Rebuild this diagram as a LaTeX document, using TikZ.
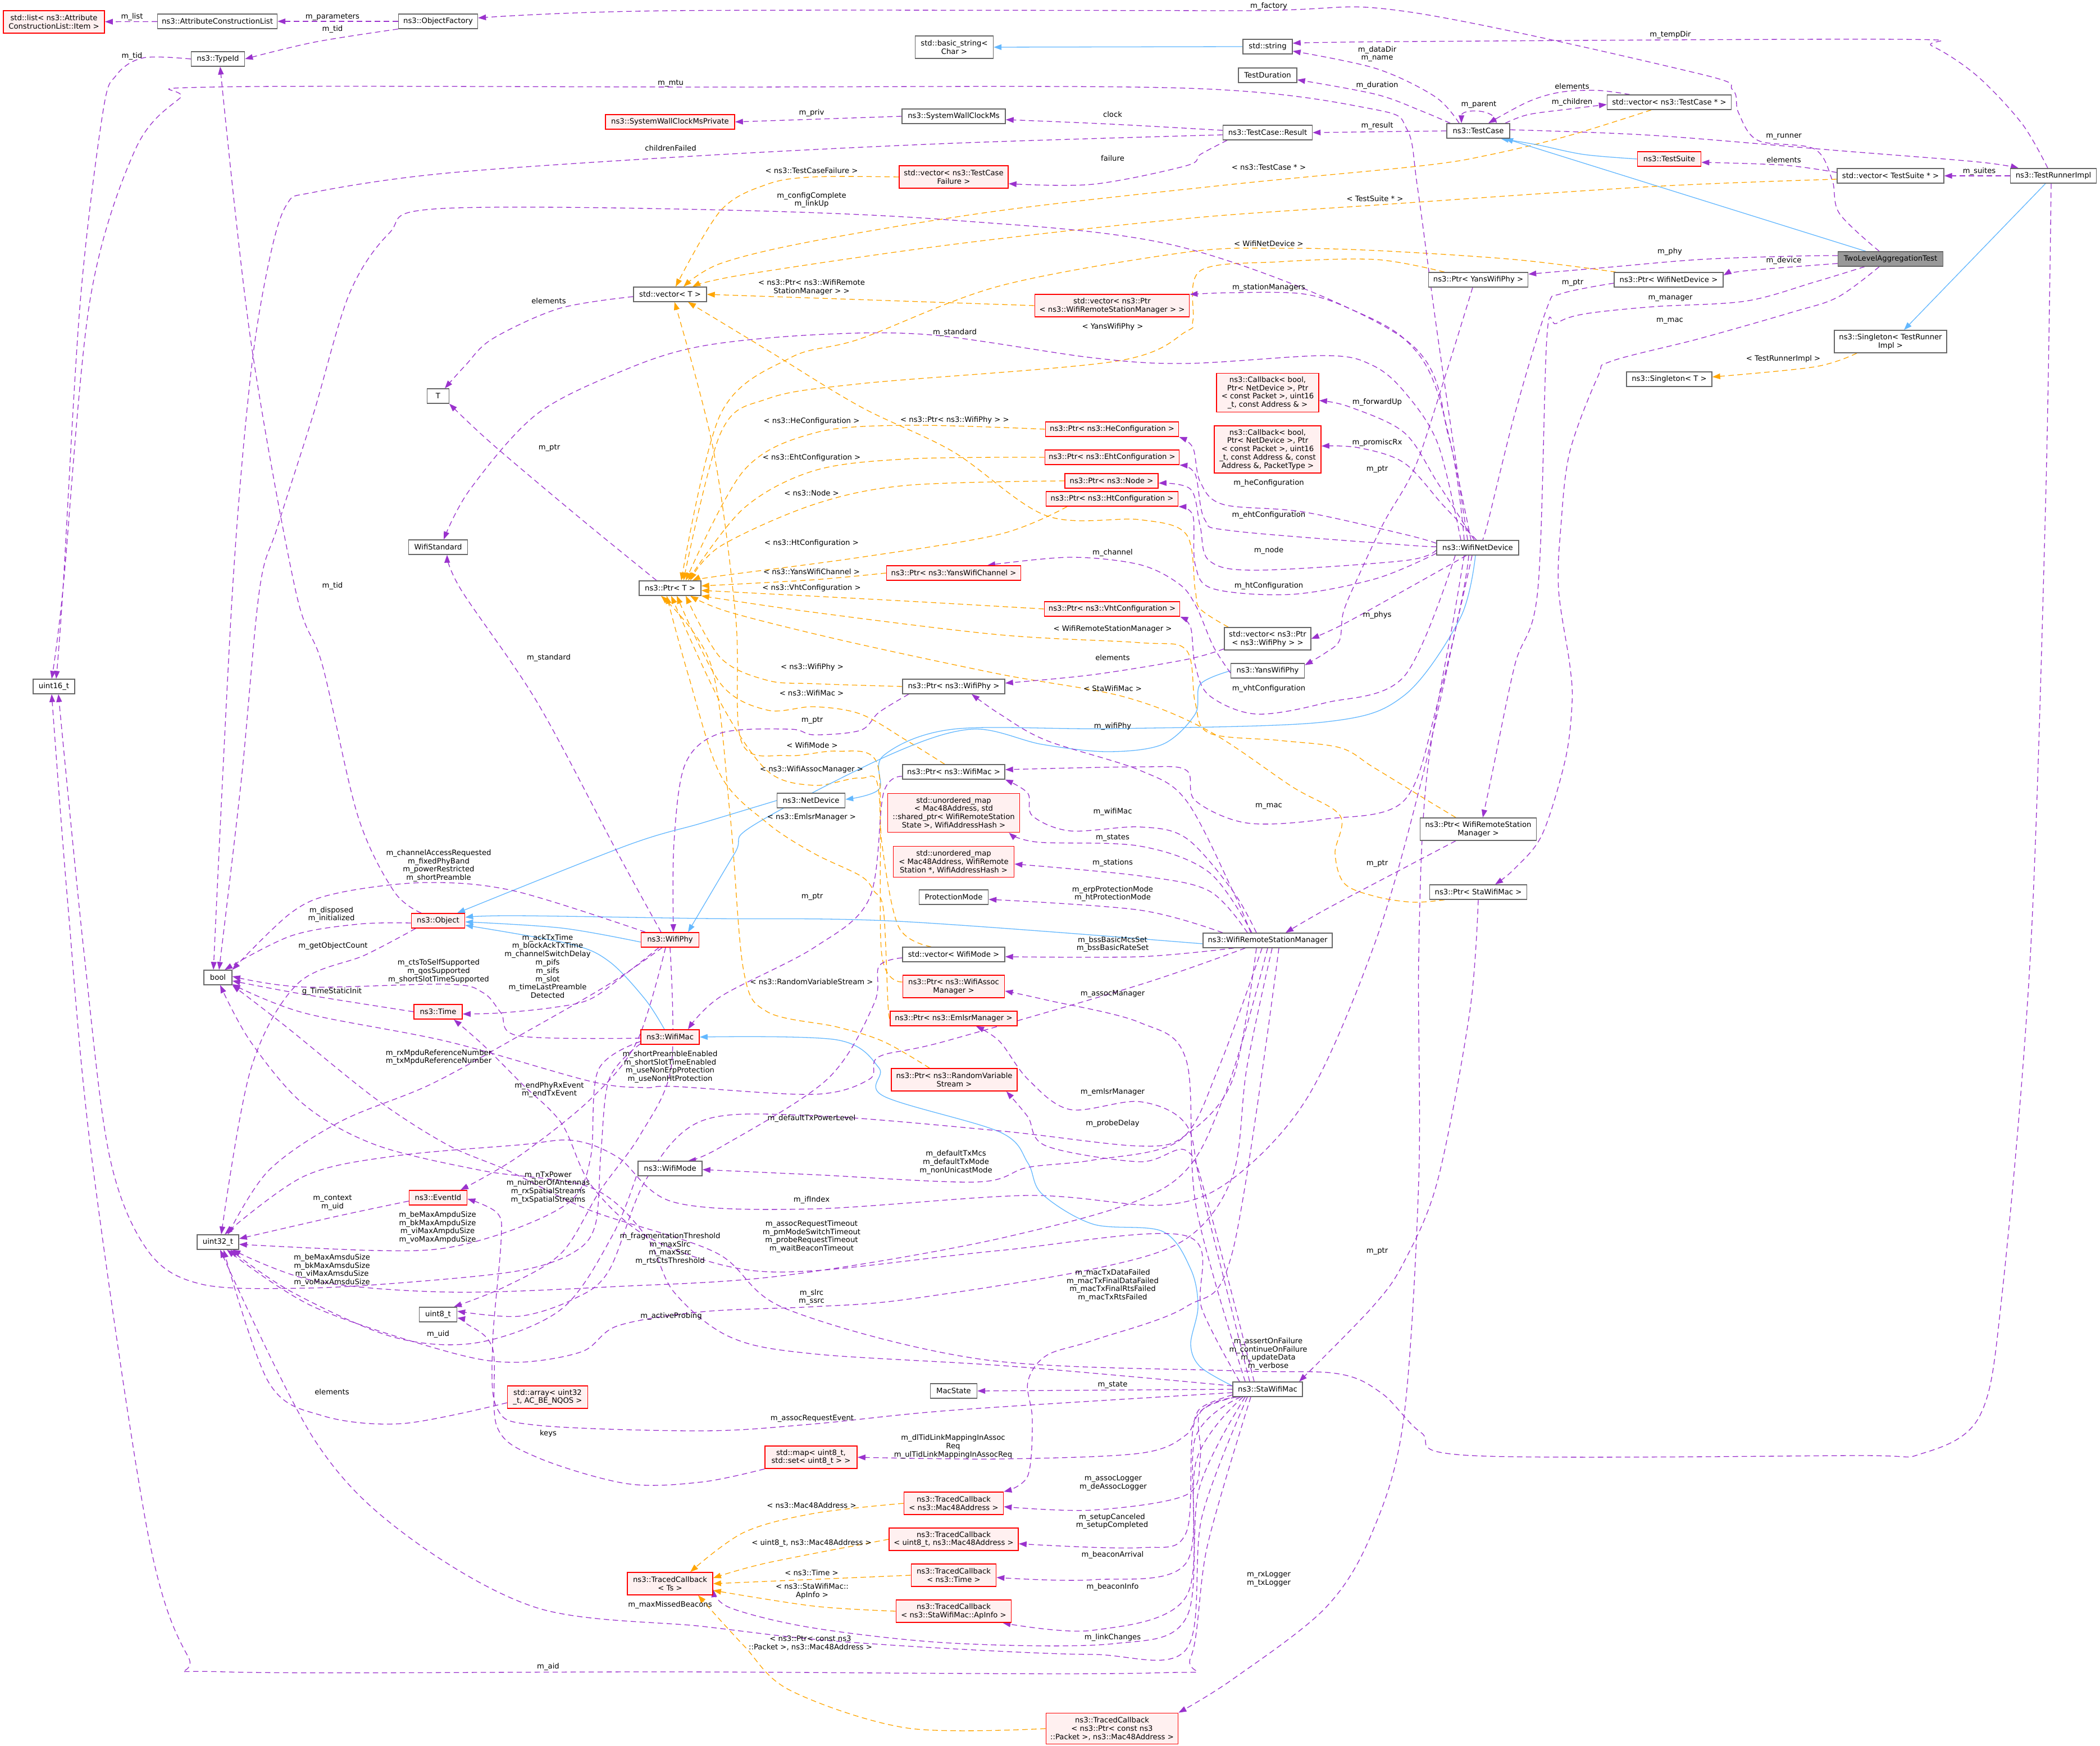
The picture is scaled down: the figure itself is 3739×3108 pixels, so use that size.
\documentclass[tikz,border=0pt]{standalone}
\usepackage{fontspec}
\setmainfont{DejaVu Sans}
\usetikzlibrary{arrows.meta}
\definecolor{purp}{RGB}{154,50,205}
\definecolor{orng}{RGB}{255,165,0}
\definecolor{blu}{RGB}{99,184,255}
\definecolor{bgray}{RGB}{102,102,102}
\definecolor{redf}{RGB}{255,240,240}
\definecolor{gfill}{RGB}{153,153,153}
\pgfdeclarelayer{back}\pgfdeclarelayer{edges}
\pgfsetlayers{back,edges,main}
\newcommand\edg[2]{\draw[#1] plot[smooth,tension=0.55] coordinates {#2};}
\tikzset{
 box/.style={draw=bgray,fill=white,line width=0.7pt,inner xsep=1pt,inner ysep=0pt,align=center,minimum height=13pt},
 bx/.style={box,minimum width=#1pt},
 rb/.style={box,draw=red,fill=redf,line width=0.8pt,minimum width=#1pt},
 gb/.style={box,fill=gfill,minimum width=#1pt},
 h2/.style={minimum height=20pt},
 h3/.style={minimum height=27.5pt},
 h4/.style={minimum height=34.5pt},
 h5/.style={minimum height=42pt},
 lb/.style={inner sep=0pt,align=center},
 pe/.style={draw=purp,line width=0.65pt,dash pattern=on 4.8pt off 3.2pt,-{Triangle[length=7pt,width=5pt]}},
 oe/.style={draw=orng,line width=0.65pt,dash pattern=on 4.8pt off 3.2pt,-{Triangle[length=7pt,width=5pt]}},
 be/.style={draw=blu,line width=0.65pt,-{Triangle[length=7pt,width=5pt]}},
}
\begin{document}
\begin{tikzpicture}[x=0.5pt,y=-0.5pt,font=\fontsize{6.6pt}{7.4pt}\selectfont]
\begin{pgfonlayer}{back}
\fill[white] (0,0) rectangle (3739,3108);
\end{pgfonlayer}
\useasboundingbox (0,0) rectangle (3739,3108);
% ---------------- nodes
\node[rb=90,h2] (list) at (96,39) {std::list< ns3::Attribute\\ConstructionList::Item >};
\node[bx=106.5] (acl) at (387,38) {ns3::AttributeConstructionList};
\node[bx=70.5] (of) at (780,38) {ns3::ObjectFactory};
\node[bx=47.5] (tid) at (388,105) {ns3::TypeId};
\node[bx=37] (u16) at (96,1222) {uint16\_t};
\node[bx=19.5] (T) at (780,705) {T};
\node[bx=52.5] (ws) at (780,974) {WifiStandard};
\node[bx=65] (vecT) at (1193,524) {std::vector< T >};
\node[bx=55] (ptrT) at (1193,1047) {ns3::Ptr< T >};
\node[rb=115] (swcp) at (1193,217) {ns3::SystemWallClockMsPrivate};
\node[bx=25] (bool) at (388,1740) {bool};
\node[rb=47.5] (obj) at (780,1639) {ns3::Object};
\node[rb=43] (time) at (780,1801) {ns3::Time};
\node[rb=51.5] (wphy) at (1193,1673) {ns3::WifiPhy};
\node[rb=52] (wmac) at (1193,1846) {ns3::WifiMac};
\node[bx=57] (wmode) at (1193,2080) {ns3::WifiMode};
\node[bx=37] (u32) at (388,2211) {uint32\_t};
\node[rb=51.5] (evid) at (780,2132) {ns3::EventId};
\node[bx=33.5] (u8) at (780,2340) {uint8\_t};
\node[rb=71.5,h2] (arr) at (975,2487) {std::array< uint32\\\_t, AC\_BE\_NQOS >};
\node[rb=76,h2] (tcts) at (1193,2819) {ns3::TracedCallback\\< Ts >};
\node[bx=69.5,h2] (bstr) at (1699,84) {std::basic\_string<\\ Char >};
\node[bx=92] (swc) at (1698,207) {ns3::SystemWallClockMs};
\node[rb=97,h2] (vtcf) at (1698,315) {std::vector< ns3::TestCase\\Failure >};
\node[rb=119.5] (pychan) at (1698,1020) {ns3::Ptr< ns3::YansWifiChannel >};
\node[bx=91] (pwphy) at (1698,1222) {ns3::Ptr< ns3::WifiPhy >};
\node[bx=91] (pwmac) at (1698,1374) {ns3::Ptr< ns3::WifiMac >};
\node[bx=60.5] (netdev) at (1444,1425) {ns3::NetDevice};
\node[rb=117.5,h4] (umst) at (1698,1447) {std::unordered\_map\\< Mac48Address, std\\::shared\_ptr< WifiRemoteStation\\State >, WifiAddressHash >};
\node[rb=107.5,h3] (umsn) at (1698,1534) {std::unordered\_map\\< Mac48Address, WifiRemote\\Station *, WifiAddressHash >};
\node[bx=61.5] (prot) at (1698,1597) {ProtectionMode};
\node[bx=91] (vwm) at (1698,1699) {std::vector< WifiMode >};
\node[rb=90.5,h2] (passoc) at (1698,1756) {ns3::Ptr< ns3::WifiAssoc\\Manager >};
\node[rb=113] (pemlsr) at (1698,1813) {ns3::Ptr< ns3::EmlsrManager >};
\node[rb=112,h2] (prvs) at (1699,1922) {ns3::Ptr< ns3::RandomVariable\\Stream >};
\node[bx=41.5] (macst) at (1698,2476) {MacState};
\node[rb=82,h2] (map) at (1444,2594) {std::map< uint8\_t,\\ std::set< uint8\_t > >};
\node[rb=88.5,h2] (tcmac) at (1698,2676) {ns3::TracedCallback\\< ns3::Mac48Address >};
\node[rb=115,h2] (tcu8) at (1698,2740) {ns3::TracedCallback\\< uint8\_t, ns3::Mac48Address >};
\node[rb=75.5,h2] (tctime) at (1698,2804) {ns3::TracedCallback\\< ns3::Time >};
\node[rb=102.5,h2] (tcap) at (1698,2868) {ns3::TracedCallback\\< ns3::StaWifiMac::ApInfo >};
\node[rb=117.5,h3] (tcpkt) at (1980,3077) {ns3::TracedCallback\\< ns3::Ptr< const ns3\\::Packet >, ns3::Mac48Address >};
\node[rb=137.5,h2] (vpwrsm) at (1980,544) {std::vector< ns3::Ptr\\< ns3::WifiRemoteStationManager > >};
\node[rb=118.5] (phe) at (1980,764) {ns3::Ptr< ns3::HeConfiguration >};
\node[rb=119.5] (peht) at (1980,814) {ns3::Ptr< ns3::EhtConfiguration >};
\node[rb=83] (pnode) at (1979,856) {ns3::Ptr< ns3::Node >};
\node[rb=117.5] (pht) at (1980,888) {ns3::Ptr< ns3::HtConfiguration >};
\node[rb=120.5] (pvht) at (1980,1084) {ns3::Ptr< ns3::VhtConfiguration >};
\node[bx=115] (wrsm) at (2257,1674) {ns3::WifiRemoteStationManager};
\node[bx=62] (sta) at (2257,2473) {ns3::StaWifiMac};
\node[bx=44] (str) at (2257,83) {std::string};
\node[bx=52] (tdur) at (2257,134) {TestDuration};
\node[bx=79.5] (res) at (2257,236) {ns3::TestCase::Result};
\node[rb=91,h4] (cbfw) at (2257,699) {ns3::Callback< bool,\\ Ptr< NetDevice >, Ptr\\< const Packet >, uint16\\\_t, const Address \& >};
\node[rb=95,h5] (cbpr) at (2257,800) {ns3::Callback< bool,\\ Ptr< NetDevice >, Ptr\\< const Packet >, uint16\\\_t, const Address \&, const\\ Address \&, PacketType >};
\node[bx=77,h2] (vpwphy) at (2257,1137) {std::vector< ns3::Ptr\\< ns3::WifiPhy > >};
\node[bx=65.5] (yphy) at (2257,1194) {ns3::YansWifiPhy};
\node[bx=56] (tc) at (2632,233) {ns3::TestCase};
\node[bx=88.5] (pyphy) at (2632,498) {ns3::Ptr< YansWifiPhy >};
\node[bx=73] (wnd) at (2631,975) {ns3::WifiNetDevice};
\node[bx=103.5,h2] (pwrsm) at (2632,1476) {ns3::Ptr< WifiRemoteStation\\Manager >};
\node[bx=86.5] (psta) at (2632,1588) {ns3::Ptr< StaWifiMac >};
\node[bx=110.5] (vtc) at (2972,182) {std::vector< ns3::TestCase * >};
\node[rb=56.5] (ts) at (2972,283) {ns3::TestSuite};
\node[bx=97] (pwnd) at (2971,498) {ns3::Ptr< WifiNetDevice >};
\node[bx=76] (sgT) at (2972,675) {ns3::Singleton< T >};
\node[bx=95] (vts) at (3366,313) {std::vector< TestSuite * >};
\node[gb=93.5] (tlat) at (3366,461) {TwoLevelAggregationTest};
\node[bx=100,h2] (sgtr) at (3366,608) {ns3::Singleton< TestRunner\\Impl >};
\node[bx=76.5] (tri) at (3656,313) {ns3::TestRunnerImpl};
% ---------------- edges
\begin{pgfonlayer}{edges}
\draw[pe] (acl) -- (list);
\draw[pe] (of) -- (acl);
\edg{pe}{(of.south west) (560,75) (tid.east)}
\edg{pe}{(tid.west) (255,103) (207,134) (183,201) (143,536) (112,1050) ([xshift=2pt]u16.north)}
\edg{pe}{([xshift=-10pt]tlat.north) (3275,380) (3262,320) (3230,265) (3130,250) (3095,200) (3085,160) (3020,130) (2500,20) (2200,19) (1200,19) ([yshift=3pt]of.east)}
\edg{pe}{([xshift=-5pt]tri.north) (3600,220) (3520,135) (3440,82) (3380,70) (2500,74) ([yshift=3pt]str.east)}
\edg{pe}{([xshift=-17pt]tc.north) (2555,172) (2450,122) ([yshift=-4pt]str.east)}
\edg{pe}{([xshift=-25pt]tc.north) (2532,198) (2450,168) ([yshift=-4pt]tdur.east)}
\draw[pe] (tc.west) -- (res.east);
\draw[pe] ([xshift=16pt]tc.north) .. controls (2666,193) and (2602,193) .. ([xshift=-15pt]tc.north);
\edg{pe}{([xshift=-35pt]vtc.north) (2845,161) (2779,164) (2721,181) ([xshift=9pt]tc.north)}
\edg{pe}{([xshift=24pt]tc.north) (2721,204) (2795,194) ([yshift=-2pt]vtc.west)}
\edg{oe}{([xshift=-16pt]vtc.south) (2795,241) (2655,275) (2532,295) (2195,328) (1780,375) (1449,429) (1283,469) ([xshift=12pt]vecT.north)}
\edg{be}{(ts.west) (2820,275) (2738,258) ([xshift=20pt]tc.south)}
\draw[be] ([xshift=-22pt]tlat.north) -- ([xshift=24pt]tc.south);
\edg{pe}{([yshift=3pt]vts.west) (3176,294) ([yshift=-3pt]ts.east)}
\draw[pe] (tri.west) -- (vts.east);
\edg{oe}{([yshift=-3pt]vts.west) (2943,332) (2450,365) (2112,389) (1697,435) (1324,489) ([xshift=20pt]vecT.north)}
\edg{pe}{([yshift=1pt]tc.east) (2943,241) (3272,268) (3519,288) ([xshift=-31pt]tri.north)}
\draw[be] ([xshift=-7pt]tri.south) -- ([xshift=12pt]sgtr.north);
\edg{oe}{([xshift=-30pt]sgtr.south) (3231,653) ([yshift=2pt]sgT.east)}
\edg{pe}{([xshift=-2pt]tri.south) (3642,900) (3615,1700) (3565,2300) (3525,2520) (3420,2588) (3300,2591) (2620,2591) (2530,2550) (2460,2480) (2380,2445) (2195,2440) (1750,2420) (1400,2330) (1275,2230) (1052,2155) (905,2084) (797,2038) (669,1956) (510,1828) (bool.south east)}
% TLAT
\edg{pe}{([yshift=3pt]tlat.west) (3190,456) (3025,462) (2861,476) ([yshift=5pt]pyphy.east)}
\edg{pe}{([yshift=-4pt]tlat.west) (3108,482) ([yshift=4pt]pwnd.east)}
\edg{pe}{([xshift=-23pt]tlat.south) (3231,502) (3108,536) (2943,546) (2820,559) (2771,576) (2754,603) (2738,1050) (2697,1184) (2655,1385) ([xshift=4pt]pwrsm.north)}
\edg{pe}{([xshift=-10pt]tlat.south) (3272,529) (3190,556) (3025,603) (2869,643) (2845,670) (2795,804) (2779,938) (2775,1050) (2795,1184) (2799,1251) (2787,1352) (2746,1485) (2697,1546) ([xshift=15pt]psta.north)}
% pyphy / pwnd
\edg{pe}{([xshift=-5pt]pyphy.south) (2573,670) (2520,830) (2464,930) (2419,1025) (2392,1089) (2385,1140) (2360,1162) ([yshift=5pt]yphy.east)}
\edg{oe}{([xshift=-30pt]pyphy.north) (2450,462) (2278,466) (2137,482) (2124,570) (2112,590) (1987,643) (1532,683) (1366,710) (1283,771) ([xshift=12pt]ptrT.north)}
\edg{oe}{([xshift=-47pt]pwnd.north) (2697,462) (2450,446) (2278,442) (2112,449) (1780,509) (1532,603) (1407,637) (1283,737) ([xshift=10pt]ptrT.north)}
\edg{pe}{([yshift=-3pt]pwnd.west) (2779,523) (2754,549) (2697,737) (2647,938) ([xshift=3pt]wnd.north)}
% WifiNetDevice
\edg{pe}{([xshift=-9pt]wnd.north) (2560,600) (2524,335) (2505,230) (2443,194) (2112,157) (1250,155) (375,155) (320,175) (240,268) (160,536) (112,1050) ([xshift=-2pt]u16.north)}
\edg{pe}{([yshift=-2pt]res.west) (1697,255) (1250,277) (797,308) (560,342) (510,365) (478,470) (446,670) (414,1050) ([xshift=-4pt]bool.north)}
\edg{pe}{([xshift=-12pt]wnd.north) (2580,780) (2500,603) (2112,442) (1697,392) (1250,373) (773,372) (693,415) (622,523) (558,737) (494,938) (462,1050) (430,1385) ([xshift=1pt]bool.north)}
\edg{pe}{([xshift=-15pt]wnd.north) (2560,790) (2500,697) (2443,650) (2360,633) (2112,647) (1946,637) (1656,596) (1449,596) (1250,616) (1116,657) (956,737) (837,871) ([xshift=5pt]ws.north)}
\edg{pe}{([xshift=-6pt]wnd.north) (2560,700) (2500,603) (2402,549) (2319,523) (2195,521) ([yshift=10pt]vpwrsm.east)}
\edg{pe}{([xshift=-3pt]wnd.north) (2560,860) (2500,770) (2402,724) ([yshift=-7pt]cbfw.east)}
\edg{pe}{([xshift=-1pt]wnd.north) (2570,900) (2500,824) (2419,797) ([yshift=3pt]cbpr.east)}
\edg{pe}{([yshift=4pt]wnd.west) (2500,951) (2319,911) (2178,898) (2137,858) (2124,797) (phe.south east)}
\edg{pe}{([yshift=1pt]wnd.west) (2500,970) (2195,945) (2145,925) (2128,844) (peht.south east)}
\edg{pe}{([yshift=-2pt]wnd.west) (2500,998) (2236,1015) (2153,998) (2137,938) (2120,871) ([yshift=-2pt]pnode.east)}
\edg{pe}{([yshift=-5pt]wnd.west) (2450,1030) (2300,1058) (2160,1048) (2128,1005) (2124,918) (pht.south east)}
\edg{pe}{([xshift=-20pt]wnd.south) (2500,1204) (2360,1251) (2236,1271) (2153,1238) (2128,1184) (2120,1117) (pvht.south east)}
\edg{pe}{([xshift=-10pt]wnd.south) (2518,1041) (2394,1110) (vpwphy.east)}
\edg{pe}{([xshift=-5pt]wnd.south) (2560,1250) (2500,1425) (2360,1458) (2220,1465) (2128,1425) (2112,1371) (2029,1365) ([yshift=2pt]pwmac.east)}
\edg{be}{([xshift=-2pt]wnd.south) (2600,1100) (2500,1238) (2360,1285) (1987,1297) (1697,1298) (1573,1345) (1565,1405) ([yshift=1pt]netdev.east)}
\edg{pe}{([xshift=-8pt]wnd.south) (2600,1080) (2532,1385) (2450,1673) (2330,1950) (2195,2098) (2070,2145) (1830,2128) (1445,2152) (1200,2140) (1100,2060) (1020,2030) (924,2038) (701,2058) (541,2094) ([xshift=6pt]u32.north)}
\edg{pe}{([xshift=-12pt]wnd.south) (2590,1090) (2540,1385) (2526,1700) (2526,2100) (2499,2527) (2443,2728) (2360,2862) (2195,2989) (tcpkt.north east)}
% Result
\draw[pe] (swc.west) -- (swcp.east);
\edg{pe}{([yshift=2pt]res.west) (1979,221) ([yshift=-3pt]swc.east)}
\edg{pe}{([xshift=-36pt]res.south) (2137,275) (2112,295) (1946,328) ([yshift=-6pt]vtcf.east)}
\edg{oe}{(vtcf.west) (1449,315) (1366,328) (1283,375) ([xshift=5pt]vecT.north)}
\draw[oe] (vpwrsm.west) -- (vecT.east);
\edg{oe}{([xshift=-35pt]vpwphy.north) (2137,1084) (2128,1050) (2112,951) (2029,925) (1863,918) (1697,804) (1532,724) (1366,623) ([xshift=16pt]vecT.south)}
\edg{oe}{([xshift=-20pt]vwm.north) (1600,1650) (1570,1500) (1560,1355) (1490,1337) (1400,1345) (1320,1320) (1310,1100) (1270,800) ([xshift=4pt]vecT.south)}
\edg{pe}{([yshift=-2pt]vecT.west) (996,549) (877,603) (829,650) ([xshift=6pt]T.north)}
\edg{pe}{([xshift=-12pt]ptrT.north) (1036,925) (877,791) ([xshift=10pt]T.south)}
% Ptr<X> -> Ptr<T>
\edg{oe}{(phe.west) (1614,757) (1449,771) (1324,838) ([xshift=14pt]ptrT.north)}
\edg{oe}{(peht.west) (1614,817) (1449,838) (1324,905) ([xshift=16pt]ptrT.north)}
\edg{oe}{(pnode.west) (1614,864) (1449,898) (1283,972) ([xshift=18pt]ptrT.north)}
\edg{oe}{([xshift=-40pt]pht.south) (1780,951) (1532,992) (1283,1025) ([xshift=20pt]ptrT.north)}
\edg{oe}{(pychan.west) (1449,1032) ([yshift=2pt]ptrT.east)}
\edg{oe}{(pvht.west) (1614,1070) (1366,1057) ([yshift=-2pt]ptrT.east)}
\edg{oe}{([xshift=-20pt]pwrsm.north) (2532,1419) (2444,1365) (2386,1331) (2278,1318) (2153,1305) (2128,1251) (2112,1157) (2029,1144) (1780,1130) (1449,1090) (ptrT.south east)}
\edg{oe}{([xshift=-30pt]psta.south) (2516,1606) (2450,1596) (2394,1573) (2377,1519) (2386,1452) (2300,1400) (2150,1300) (2000,1240) (1780,1200) (1500,1140) (1300,1090) ([xshift=18pt]ptrT.south)}
\edg{oe}{(pwphy.west) (1449,1217) (1366,1211) (1283,1171) ([xshift=14pt]ptrT.south)}
\edg{oe}{([xshift=-8pt]pwmac.north) (1614,1318) (1532,1271) (1449,1258) (1366,1264) (1283,1217) ([xshift=6pt]ptrT.south)}
\edg{oe}{([yshift=4pt]passoc.west) (1570,1700) (1565,1412) (1532,1385) (1449,1398) (1366,1372) (1283,1251) ([xshift=1pt]ptrT.south)}
\edg{oe}{(pemlsr.west) (1581,1787) (1573,1620) (1556,1586) (1532,1559) (1449,1519) (1366,1465) (1283,1380) (1225,1200) ([xshift=-3pt]ptrT.south)}
\edg{oe}{([xshift=-22pt]prvs.north) (1573,1854) (1490,1828) (1366,1801) (1324,1728) (1300,1452) (1266,1184) ([xshift=-8pt]ptrT.south)}
% m_ptr
\edg{pe}{([xshift=-40pt]pwphy.south) (1565,1268) (1532,1300) (1449,1308) (1407,1298) (1283,1305) (1220,1360) (1200,1500) ([xshift=3pt]wphy.north)}
\edg{pe}{([yshift=-4pt]pwmac.west) (1573,1412) (1548,1599) (1449,1687) (1283,1774) ([xshift=16pt]wmac.north)}
\edg{pe}{([xshift=-20pt]pwrsm.south) (2500,1545) (2360,1619) ([xshift=16pt]wrsm.north)}
\edg{pe}{(psta.south) (2617,1800) (2560,2100) (2500,2246) (2444,2326) ([xshift=28pt]sta.north)}
% inheritance
\draw[be] (str.west) -- (bstr.east);
\edg{be}{(netdev.west) (1250,1465) (1116,1505) ([xshift=17pt]obj.north)}
\edg{be}{([yshift=-2pt]wphy.west) (1000,1652) ([yshift=-1pt]obj.east)}
\edg{be}{([xshift=-5pt]wmac.north) (1148,1778) (1084,1711) (1013,1680) ([yshift=-4pt]obj.east)}
\edg{be}{([yshift=-3pt]wrsm.west) (1600,1640) (1250,1635) (917,1630) ([yshift=3pt]obj.east)}
\edg{be}{(yphy.west) (2137,1218) (2128,1271) (2070,1325) (1971,1338) (1855,1325) (1730,1298) (1581,1345) (1340,1470) (1308,1519) ([xshift=16pt]wphy.north)}
\edg{be}{([yshift=3pt]sta.west) (2137,2433) (2120,2393) (2133,2326) (2120,2259) (2070,2192) (1946,2179) (1855,2125) (1830,2070) (1780,2015) (1573,1951) (1565,1901) (1490,1851) (wmac.east)}
% WifiPhy
\edg{pe}{([xshift=-22pt]wphy.north) (916,1586) (757,1571) (600,1590) (518,1625) (bool.north east)}
\edg{pe}{([xshift=-8pt]wphy.north) (1100,1519) (957,1251) (821,1050) ([xshift=8pt]ws.south)}
\edg{pe}{([xshift=-10pt]wphy.south) (1116,1732) (1052,1778) (988,1793) (892,1803) ([yshift=-2pt]time.east)}
\edg{pe}{([xshift=-7pt]wphy.south) (1084,1752) (924,1844) (765,1931) (605,1997) (478,2084) ([xshift=9pt]u32.north)}
\edg{pe}{([xshift=-4pt]wphy.south) (1134,1854) (1052,1956) (924,2058) ([xshift=20pt]evid.north)}
\edg{pe}{(wphy.south) (1195,1900) (1140,2020) (1068,2120) (1000,2230) (900,2290) ([xshift=14pt]u8.north)}
% Object / Time / EventId
\edg{pe}{([xshift=-15pt]obj.north) (701,1586) (637,1452) (574,1184) (526,1050) (446,603) ([xshift=2pt]tid.south)}
\edg{pe}{([yshift=-2pt]obj.west) (638,1645) (518,1666) ([xshift=6pt]bool.north)}
\edg{pe}{([xshift=-20pt]obj.south) (650,1700) (529,1752) (446,1905) ([xshift=3pt]u32.north)}
\edg{pe}{(time.west) (541,1770) ([yshift=-3pt]bool.east)}
\edg{pe}{([yshift=-3pt]evid.west) (600,2165) ([yshift=3pt]u32.east)}
% WifiMac
\edg{pe}{([yshift=-1pt]wmac.west) (924,1844) (892,1803) (860,1767) (797,1752) (541,1757) ([yshift=1pt]bool.east)}
\edg{pe}{([yshift=-4pt]wmac.west) (1065,1905) (1052,2058) (1020,2134) (924,2185) (797,2221) (669,2226) ([yshift=-2pt]u32.east)}
\edg{pe}{([yshift=-6pt]wmac.west) (1085,1920) (1070,2050) (1060,2180) (1020,2230) (924,2262) (733,2282) (541,2293) (359,2286) (263,2226) (195,2058) (150,1700) ([xshift=4pt]u16.south)}
% WRSM
\edg{pe}{([xshift=-15pt]wrsm.north) (2195,1586) (2112,1425) (2029,1371) (1863,1318) (1780,1271) ([xshift=16pt]pwphy.south)}
\edg{pe}{([xshift=-10pt]wrsm.north) (2195,1586) (2112,1492) (2029,1472) (1905,1479) (1838,1452) (1830,1412) (pwmac.south east)}
\edg{pe}{([xshift=-14pt]wrsm.north) (2153,1553) (2029,1506) (1847,1499) ([xshift=-10pt]umst.south east)}
\edg{pe}{([xshift=-18pt]wrsm.north) (2153,1586) (2029,1559) ([yshift=-2pt]umsn.east)}
\edg{pe}{([xshift=-40pt]wrsm.north) (2029,1620) ([yshift=-2pt]prot.east)}
\edg{pe}{([xshift=-30pt]wrsm.south) (2029,1703) ([yshift=-2pt]vwm.east)}
\edg{pe}{([xshift=-20pt]wrsm.south) (2029,1753) (1681,1854) (1565,1881) (1548,1921) (1449,1948) (1200,1934) (1147,1936) (1052,1925) (797,1854) (541,1803) ([yshift=-6pt]bool.east)}
\edg{pe}{([xshift=-10pt]wrsm.south) (2195,1921) (2112,2020) (2029,2040) (1780,2013) (1449,1986) (1250,1995) (1150,2100) (1084,2262) (1020,2313) (924,2343) ([yshift=3pt]u8.east)}
\edg{pe}{([xshift=-5pt]wrsm.south) (2170,1900) (2100,2030) (1946,2065) (1830,2078) (1739,2104) (1449,2091) ([yshift=-1pt]wmode.east)}
\edg{pe}{(wrsm.south) (2180,1950) (2080,2110) (1800,2200) (1400,2270) (1100,2290) (800,2300) (560,2280) ([xshift=13pt]u32.south)}
\edg{pe}{([xshift=4pt]wrsm.south) (2220,1900) (2195,2092) (2112,2205) (1946,2259) (1614,2313) (1449,2326) (1250,2335) (1100,2360) (1036,2406) (917,2425) (797,2406) (558,2326) ([xshift=8pt]u32.south)}
\edg{pe}{([xshift=10pt]wrsm.south) (2195,2226) (2112,2326) (1946,2386) (1863,2413) (1830,2460) (1838,2527) (1830,2627) (tcmac.north east)}
% StaWifiMac
\edg{pe}{([xshift=-20pt]sta.north) (2130,2150) (2112,1887) (2029,1820) (1863,1780) ([yshift=-4pt]passoc.east)}
\edg{pe}{([xshift=-16pt]sta.north) (2140,2120) (2112,2002) (2029,1961) (1905,1975) (1830,1921) (1780,1854) ([xshift=20pt]pemlsr.south)}
\edg{pe}{([xshift=-12pt]sta.north) (2150,2140) (2112,2048) (2029,2068) (1863,2040) (1830,1988) ([xshift=-10pt]prvs.south east)}
\edg{pe}{([xshift=-25pt]sta.north) (2140,2330) (2112,2200) (1780,2226) (1449,2262) (1300,2255) (1150,2200) (1052,2109) (1000,2000) (930,1930) (860,1860) ([xshift=14pt]time.south)}
\edg{pe}{([yshift=3pt]sta.west) (1800,2432) (1449,2410) (1300,2380) (1200,2300) (1150,2200) (1052,2114) (860,2084) (669,2038) (541,1966) (446,1854) ([xshift=2pt]bool.south)}
\draw[pe] (sta.west) -- (macst.east);
\edg{pe}{([yshift=-3pt]sta.west) (1700,2510) (1446,2535) (1250,2547) (956,2537) (885,2507) (877,2393) (892,2211) (886,2160) ([yshift=-1pt]evid.east)}
\edg{pe}{([yshift=-5pt]sta.west) (2137,2507) (2112,2554) (2029,2587) (1780,2597) (map.east)}
\edg{pe}{([xshift=-28pt]sta.south) (2137,2514) (2137,2594) (2112,2661) (1946,2688) ([yshift=-3pt]tcmac.east)}
\edg{pe}{([xshift=-26pt]sta.south) (2128,2527) (2112,2728) (2029,2755) ([yshift=-4pt]tcu8.east)}
\edg{pe}{([xshift=-24pt]sta.south) (2128,2560) (2112,2782) (1946,2812) ([yshift=-2pt]tctime.east)}
\edg{pe}{([xshift=-22pt]sta.south) (2130,2600) (2112,2842) (1946,2902) ([xshift=-8pt]tcap.south east)}
\edg{pe}{([xshift=-20pt]sta.south) (2135,2650) (2112,2880) (1981,2926) (1697,2925) (1449,2898) (1300,2862) ([yshift=-5pt]tcts.east)}
\edg{pe}{([xshift=-18pt]sta.south) (2140,2700) (2112,2936) (1946,2945) (1697,2935) (1449,2918) (1250,2895) (956,2862) (717,2728) (558,2560) ([xshift=2pt]u32.south)}
\edg{pe}{([xshift=-15pt]sta.south) (2150,2750) (2120,2950) (2050,2978) (1200,2976) (400,2976) (335,2949) (263,2728) (163,2058) (120,1600) ([xshift=-2pt]u16.south)}
% TracedCallbacks
\edg{oe}{(tcmac.west) (1449,2694) (1324,2728) ([xshift=18pt]tcts.north)}
\edg{oe}{(tcu8.west) (1366,2782) ([yshift=5pt]tcts.east)}
\draw[oe] (tctime.west) -- (tcts.east);
\edg{oe}{(tcap.west) (1449,2859) ([yshift=-6pt]tcts.east)}
\edg{oe}{(tcpkt.west) (1615,3076) (1407,3009) (1324,2929) ([xshift=25pt]tcts.south)}
% misc
\edg{pe}{(map.south west) (1250,2638) (1116,2641) (956,2594) (885,2540) (877,2400) (829,2355) ([yshift=-3pt]u8.east)}
\edg{pe}{([yshift=-5pt]arr.west) (717,2534) (574,2520) (478,2460) ([xshift=5pt]u32.south)}
\edg{pe}{([xshift=-30pt]wmode.south) (1090,2200) (1000,2330) (850,2390) (700,2380) (520,2300) ([xshift=11pt]u32.south)}
\edg{pe}{([yshift=-3pt]vwm.west) (1565,1720) (1556,1787) (1473,1921) (1283,2042) ([xshift=16pt]wmode.north)}
\edg{pe}{([yshift=-2pt]yphy.west) (2160,1150) (2130,1080) (2100,1040) (2029,1005) (1905,992) ([xshift=30pt]pychan.north)}
\edg{pe}{([yshift=-9pt]vpwphy.west) (2112,1174) (1946,1201) ([yshift=3pt]pwphy.east)}
\end{pgfonlayer}
% ---------------- labels
\node[lb] (l1) at (235,30) {m\_list};
\node[lb] (l2) at (592,30) {m\_parameters};
\node[lb] (l3) at (592,52) {m\_tid};
\node[lb] (l4) at (235,100) {m\_tid};
\node[lb] (l5) at (2259,11) {m\_factory};
\node[lb] (l6) at (2974,62) {m\_tempDir};
\node[lb] (l7) at (2452,96) {m\_dataDir\\m\_name};
\node[lb] (l8) at (2452,152) {m\_duration};
\node[lb] (l9) at (2452,224) {m\_result};
\node[lb] (l10) at (2633,186) {m\_parent};
\node[lb] (l11) at (2799,154) {elements};
\node[lb] (l12) at (2799,182) {m\_children};
\node[lb] (l13) at (2259,298) {< ns3::TestCase * >};
\node[lb] (l14) at (3176,285) {elements};
\node[lb] (l15) at (3524,305) {m\_suites};
\node[lb] (l16) at (2448,354) {< TestSuite * >};
\node[lb] (l17) at (3176,243) {m\_runner};
\node[lb] (l18) at (3175,639) {< TestRunnerImpl >};
\node[lb] (l19) at (2258,2410) {m\_assertOnFailure\\m\_continueOnFailure\\m\_updateData\\m\_verbose};
\node[lb] (l20) at (2973,448) {m\_phy};
\node[lb] (l21) at (3176,464) {m\_device};
\node[lb] (l22) at (2800,503) {m\_ptr};
\node[lb] (l23) at (2974,531) {m\_manager};
\node[lb] (l24) at (2973,571) {m\_mac};
\node[lb] (l25) at (2452,835) {m\_ptr};
\node[lb] (l26) at (1981,582) {< YansWifiPhy >};
\node[lb] (l27) at (2259,434) {< WifiNetDevice >};
\node[lb] (l28) at (1194,148) {m\_mtu};
\node[lb] (l29) at (1194,264) {childrenFailed};
\node[lb] (l30) at (1445,356) {m\_configComplete\\m\_linkUp};
\node[lb] (l31) at (1700,592) {m\_standard};
\node[lb] (l32) at (2259,512) {m\_stationManagers};
\node[lb] (l33) at (2452,716) {m\_forwardUp};
\node[lb] (l34) at (2452,788) {m\_promiscRx};
\node[lb] (l35) at (2259,860) {m\_heConfiguration};
\node[lb] (l36) at (2259,917) {m\_ehtConfiguration};
\node[lb] (l37) at (2259,980) {m\_node};
\node[lb] (l38) at (2259,1043) {m\_htConfiguration};
\node[lb] (l39) at (1981,984) {m\_channel};
\node[lb] (l40) at (2259,1226) {m\_vhtConfiguration};
\node[lb] (l41) at (2452,1095) {m\_phys};
\node[lb] (l42) at (1981,1171) {elements};
\node[lb] (l43) at (2259,1435) {m\_mac};
\node[lb] (l44) at (1445,2136) {m\_ifIndex};
\node[lb] (l45) at (1445,201) {m\_priv};
\node[lb] (l46) at (1981,204) {clock};
\node[lb] (l47) at (1981,282) {failure};
\node[lb] (l48) at (1445,304) {< ns3::TestCaseFailure >};
\node[lb] (l49) at (1445,511) {< ns3::Ptr< ns3::WifiRemote\\StationManager > >};
\node[lb] (l50) at (1700,748) {< ns3::Ptr< ns3::WifiPhy > >};
\node[lb] (l51) at (1446,1327) {< WifiMode >};
\node[lb] (l52) at (977,536) {elements};
\node[lb] (l53) at (978,797) {m\_ptr};
\node[lb] (l54) at (1445,750) {< ns3::HeConfiguration >};
\node[lb] (l55) at (1445,815) {< ns3::EhtConfiguration >};
\node[lb] (l56) at (1445,878) {< ns3::Node >};
\node[lb] (l57) at (1445,967) {< ns3::HtConfiguration >};
\node[lb] (l58) at (1445,1018) {< ns3::YansWifiChannel >};
\node[lb] (l59) at (1445,1047) {< ns3::VhtConfiguration >};
\node[lb] (l60) at (1981,1120) {< WifiRemoteStationManager >};
\node[lb] (l61) at (1446,1188) {< ns3::WifiPhy >};
\node[lb] (l62) at (1445,1234) {< ns3::WifiMac >};
\node[lb] (l63) at (1981,1226) {< StaWifiMac >};
\node[lb] (l64) at (1445,1370) {< ns3::WifiAssocManager >};
\node[lb] (l65) at (1445,1455) {< ns3::EmlsrManager >};
\node[lb] (l66) at (1445,1748) {< ns3::RandomVariableStream >};
\node[lb] (l67) at (1446,1282) {m\_ptr};
\node[lb] (l68) at (1446,1596) {m\_ptr};
\node[lb] (l69) at (2452,1537) {m\_ptr};
\node[lb] (l70) at (2452,2227) {m\_ptr};
\node[lb] (l71) at (1981,1293) {m\_wifiPhy};
\node[lb] (l72) at (1981,1445) {m\_wifiMac};
\node[lb] (l73) at (1981,1491) {m\_states};
\node[lb] (l74) at (1981,1536) {m\_stations};
\node[lb] (l75) at (1981,1591) {m\_erpProtectionMode\\m\_htProtectionMode};
\node[lb] (l76) at (1981,1681) {m\_bssBasicMcsSet\\m\_bssBasicRateSet};
\node[lb] (l77) at (1193,1899) {m\_shortPreambleEnabled\\m\_shortSlotTimeEnabled\\m\_useNonErpProtection\\m\_useNonHtProtection};
\node[lb] (l78) at (1445,1991) {m\_defaultTxPowerLevel};
\node[lb] (l79) at (1702,2069) {m\_defaultTxMcs\\m\_defaultTxMode\\m\_nonUnicastMode};
\node[lb] (l80) at (1193,2223) {m\_fragmentationThreshold\\m\_maxSlrc\\m\_maxSsrc\\m\_rtsCtsThreshold};
\node[lb] (l81) at (1445,2309) {m\_slrc\\m\_ssrc};
\node[lb] (l82) at (1981,1769) {m\_assocManager};
\node[lb] (l83) at (1981,1944) {m\_emlsrManager};
\node[lb] (l84) at (1981,2000) {m\_probeDelay};
\node[lb] (l85) at (1445,2201) {m\_assocRequestTimeout\\m\_pmModeSwitchTimeout\\m\_probeRequestTimeout\\m\_waitBeaconTimeout};
\node[lb] (l86) at (1981,2288) {m\_macTxDataFailed\\m\_macTxFinalDataFailed\\m\_macTxFinalRtsFailed\\m\_macTxRtsFailed};
\node[lb] (l87) at (1195,2343) {m\_activeProbing};
\node[lb] (l88) at (1981,2465) {m\_state};
\node[lb] (l89) at (1446,2525) {m\_assocRequestEvent};
\node[lb] (l90) at (1697,2575) {m\_dlTidLinkMappingInAssoc\\Req\\m\_ulTidLinkMappingInAssocReq};
\node[lb] (l91) at (1982,2640) {m\_assocLogger\\m\_deAssocLogger};
\node[lb] (l92) at (1980,2708) {m\_setupCanceled\\m\_setupCompleted};
\node[lb] (l93) at (1981,2768) {m\_beaconArrival};
\node[lb] (l94) at (1981,2825) {m\_beaconInfo};
\node[lb] (l95) at (1981,2915) {m\_linkChanges};
\node[lb] (l96) at (1445,2680) {< ns3::Mac48Address >};
\node[lb] (l97) at (1445,2747) {< uint8\_t, ns3::Mac48Address >};
\node[lb] (l98) at (1445,2800) {< ns3::Time >};
\node[lb] (l99) at (1446,2832) {< ns3::StaWifiMac::\\ApInfo >};
\node[lb] (l100) at (1443,2925) {< ns3::Ptr< const ns3\\::Packet >, ns3::Mac48Address >};
\node[lb] (l101) at (2259,2811) {m\_rxLogger\\m\_txLogger};
\node[lb] (l102) at (976,2967) {m\_aid};
\node[lb] (l103) at (1193,2857) {m\_maxMissedBeacons};
\node[lb] (l104) at (976,2552) {keys};
\node[lb] (l105) at (591,2478) {elements};
\node[lb] (l106) at (780,2375) {m\_uid};
\node[lb] (l107) at (592,2141) {m\_context\\m\_uid};
\node[lb] (l108) at (779,2185) {m\_beMaxAmpduSize\\m\_bkMaxAmpduSize\\m\_viMaxAmpduSize\\m\_voMaxAmpduSize};
\node[lb] (l109) at (591,2261) {m\_beMaxAmsduSize\\m\_bkMaxAmsduSize\\m\_viMaxAmsduSize\\m\_voMaxAmsduSize};
\node[lb] (l110) at (976,2114) {m\_nTxPower\\m\_numberOfAntennas\\m\_rxSpatialStreams\\m\_txSpatialStreams};
\node[lb] (l111) at (978,1940) {m\_endPhyRxEvent\\m\_endTxEvent};
\node[lb] (l112) at (781,1882) {m\_rxMpduReferenceNumber\\m\_txMpduReferenceNumber};
\node[lb] (l113) at (975,1720) {m\_ackTxTime\\m\_blockAckTxTime\\m\_channelSwitchDelay\\m\_pifs\\m\_sifs\\m\_slot\\m\_timeLastPreamble\\Detected};
\node[lb] (l114) at (591,1765) {g\_TimeStaticInit};
\node[lb] (l115) at (781,1729) {m\_ctsToSelfSupported\\m\_qosSupported\\m\_shortSlotTimeSupported};
\node[lb] (l116) at (593,1684) {m\_getObjectCount};
\node[lb] (l117) at (590,1628) {m\_disposed\\m\_initialized};
\node[lb] (l118) at (781,1541) {m\_channelAccessRequested\\m\_fixedPhyBand\\m\_powerRestricted\\m\_shortPreamble};
\node[lb] (l119) at (977,1171) {m\_standard};
\node[lb] (l120) at (592,1043) {m\_tid};
\end{tikzpicture}
\end{document}
